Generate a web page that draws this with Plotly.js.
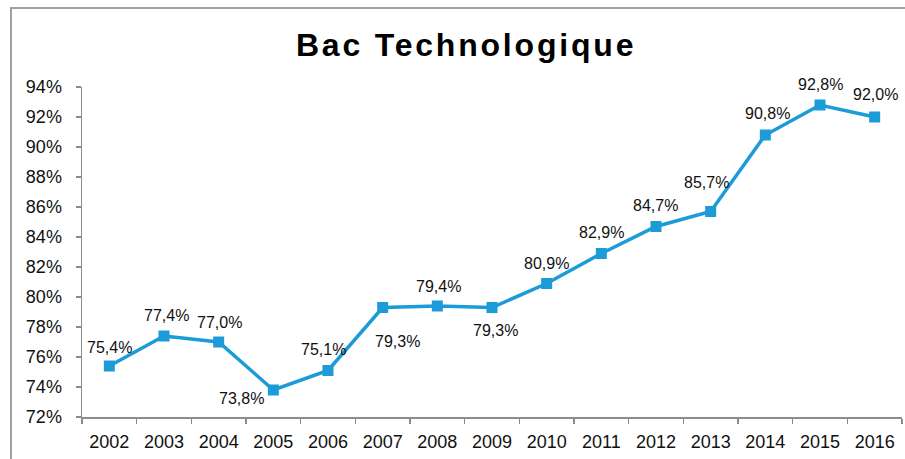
<!DOCTYPE html>
<html>
<head>
<meta charset="utf-8">
<script src="https://cdn.plot.ly/plotly-3.0.1.min.js"></script>
<style>
html,body{margin:0;padding:0;background:#fff;}
#chart{width:905px;height:459px;}
.gtitle{letter-spacing:2.8px;}
</style>
</head>
<body>
<div id="chart"></div>
<script>
var years = ['2002','2003','2004','2005','2006','2007','2008','2009','2010','2011','2012','2013','2014','2015','2016'];
var rates = [75.4, 77.4, 77.0, 73.8, 75.1, 79.3, 79.4, 79.3, 80.9, 82.9, 84.7, 85.7, 90.8, 92.8, 92.0];
var yTicks = [72, 74, 76, 78, 80, 82, 84, 86, 88, 90, 92, 94];

// label offsets (pixels) relative to each point
var labelDx = [0, 2, 1, -32, -5, 15, 1, 3, 0, 0, -1, -4, 2, 0, 1];
var labelDy = [19, 21, 20, -8, 21, -34, 20, -23, 20, 21, 21, 29, 22, 21, 23];

var fontFam = 'Liberation Sans, Arial, sans-serif';
var blue = '#1b9bd7';

var annotations = years.map(function(y, i){
  return {
    x: i, y: rates[i], xref: 'x', yref: 'y',
    text: rates[i].toFixed(1).replace('.', ',') + '%',
    showarrow: false,
    xanchor: 'center', yanchor: 'middle',
    xshift: labelDx[i], yshift: labelDy[i],
    font: {family: fontFam, size: 16, color: '#111'}
  };
});

var trace = {
  x: years, y: rates, type: 'scatter', mode: 'lines+markers',
  line: {color: blue, width: 3.5},
  marker: {symbol: 'square', size: 11, color: blue},
  hoverinfo: 'skip'
};

var ml = 82, mr = 3, mt = 87, mb = 42;
var pw = 905 - ml - mr, ph = 459 - mt - mb;

var layout = {
  width: 905, height: 459,
  margin: {l: ml, r: mr, t: mt, b: mb, pad: 0},
  paper_bgcolor: '#fff', plot_bgcolor: '#fff',
  showlegend: false,
  title: {text: '<b>Bac Technologique</b>', x: 0.515, xanchor: 'center', y: 0.903, yanchor: 'middle',
          font: {family: fontFam, size: 32, color: '#000'}},
  xaxis: {
    type: 'category', range: [-0.5, 14.5],
    showgrid: false, zeroline: false,
    showline: true, linecolor: '#8c8c8c', linewidth: 1.5,
    ticks: 'outside', tickson: 'boundaries', ticklen: 5, tickcolor: '#8c8c8c', tickwidth: 1.5,
    tickfont: {family: fontFam, size: 18, color: '#111'},
    ticklabelstandoff: 8
  },
  yaxis: {
    range: [72, 94], tickvals: yTicks, ticktext: yTicks.map(function(v){return v + '%';}),
    showgrid: false, zeroline: false,
    showline: true, linecolor: '#8c8c8c', linewidth: 1.5,
    ticks: 'outside', ticklen: 5, tickcolor: '#8c8c8c', tickwidth: 1.5,
    tickfont: {family: fontFam, size: 18, color: '#111'},
    ticklabelstandoff: 10
  },
  annotations: annotations,
  shapes: [{
    type: 'rect', xref: 'paper', yref: 'paper',
    x0: (11 - ml) / pw, x1: (915 - ml) / pw,
    y0: -(470 - (459 - mb)) / ph, y1: 1 + (mt - 8) / ph,
    line: {color: '#a0a0a0', width: 2}, fillcolor: 'rgba(0,0,0,0)', layer: 'below'
  }]
};

Plotly.newPlot('chart', [trace], layout, {displayModeBar: false, staticPlot: true});
</script>
</body>
</html>
